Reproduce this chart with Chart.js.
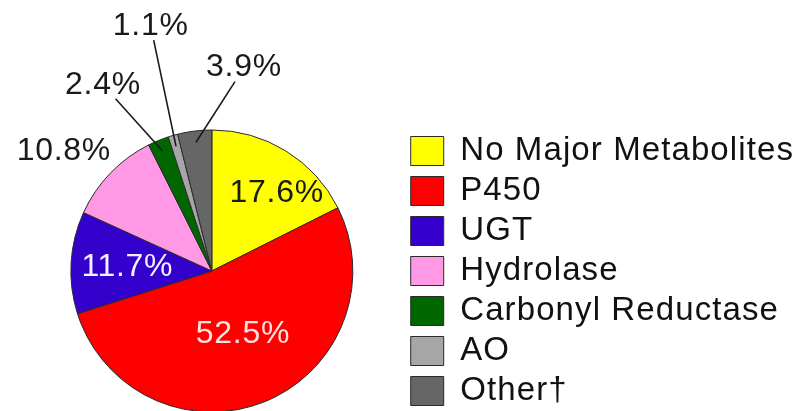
<!DOCTYPE html>
<html lang="en">
<head>
<meta charset="UTF-8">
<title>Metabolic Pathways</title>
<script src="https://cdn.jsdelivr.net/npm/chart.js"></script>
<style>
    html, body {
        margin: 0;
        padding: 0;
        background-color: #fff;
        overflow: hidden;
    }
    .chart-container {
        position: relative;
        width: 812px;
        height: 542px;
    }
</style>
</head>
<body>
<div class="chart-container">
    <canvas id="pathwayChart"></canvas>
</div>
<script>
    const categories = ['No Major Metabolites', 'P450', 'UGT', 'Hydrolase', 'Carbonyl Reductase', 'AO', 'Other\u2020'];
    const percentages = [17.6, 52.5, 11.7, 10.8, 2.4, 1.1, 3.9];
    const sliceColors = ['#ffff00', '#ff0000', '#3300cc', '#ff99e6', '#006600', '#a6a6a6', '#666666'];

    // label spot: fraction of radius, degrees turned away from the slice middle
    const labelSpots = [
        { r: 0.72, turn: 8,  color: '#1a1a1a' },
        { r: 0.50, turn: -4, color: '#ffe2e2' },
        { r: 0.60, turn: -1, color: '#f4f0ff' },
        { r: 1.35, turn: -5, color: '#1a1a1a' },
        { r: 1.53, turn: -8, color: '#1a1a1a', leader: true },
        { r: 1.79, turn: 2,  color: '#1a1a1a', leader: true },
        { r: 1.46, turn: 16, color: '#1a1a1a', leader: true }
    ];

    const FONT = '"Liberation Sans", Arial, sans-serif';

    // the original type is a little wider than Arial, so space the letters out a bit
    const wideText = {
        id: 'wideText',
        beforeUpdate(chart) { chart.ctx.letterSpacing = '1.1px'; },
        beforeLayout(chart) { chart.ctx.letterSpacing = '1.1px'; },
        beforeDraw(chart) { chart.ctx.letterSpacing = '1.1px'; }
    };

    const sliceLabels = {
        id: 'sliceLabels',
        afterDatasetsDraw(chart) {
            const ctx = chart.ctx;
            const arcs = chart.getDatasetMeta(0).data;
            ctx.save();
            ctx.font = '32px ' + FONT;
            ctx.letterSpacing = '0.7px';
            ctx.textAlign = 'center';
            ctx.textBaseline = 'middle';
            arcs.forEach((arc, i) => {
                const p = arc.getProps(['x', 'y', 'startAngle', 'endAngle', 'outerRadius'], true);
                const spot = labelSpots[i];
                const mid = (p.startAngle + p.endAngle) / 2;
                const a = mid + spot.turn * Math.PI / 180;
                const lx = p.x + Math.cos(a) * p.outerRadius * spot.r;
                const ly = p.y + Math.sin(a) * p.outerRadius * spot.r;
                if (spot.leader) {
                    const ex = p.x + Math.cos(mid) * p.outerRadius * 0.92;
                    const ey = p.y + Math.sin(mid) * p.outerRadius * 0.92;
                    const sy = ly + 14;
                    const sx = lx + (ex - lx) * 14 / (ey - ly);
                    ctx.beginPath();
                    ctx.moveTo(sx, sy);
                    ctx.lineTo(ex, ey);
                    ctx.lineWidth = 1.6;
                    ctx.strokeStyle = '#1a1a1a';
                    ctx.stroke();
                }
                ctx.fillStyle = spot.color;
                ctx.fillText(percentages[i].toFixed(1) + '%', lx, ly);
            });
            ctx.restore();
        }
    };

    Chart.defaults.font.family = FONT;

    const ctx = document.getElementById('pathwayChart').getContext('2d');
    new Chart(ctx, {
        type: 'pie',
        data: {
            labels: categories,
            datasets: [{
                data: percentages,
                backgroundColor: sliceColors,
                borderColor: '#2a2a2a',
                borderWidth: 1,
                radius: 141
            }]
        },
        options: {
            responsive: true,
            maintainAspectRatio: false,
            animation: false,
            layout: { padding: { left: 20, right: 8 } },
            plugins: {
                legend: {
                    position: 'right',
                    align: 'center',
                    maxWidth: 420,
                    labels: {
                        color: '#111',
                        font: { size: 33 },
                        boxWidth: 33,
                        boxHeight: 29,
                        padding: 7
                    }
                },
                tooltip: { enabled: false }
            }
        },
        plugins: [wideText, sliceLabels]
    });
</script>
</body>
</html>
